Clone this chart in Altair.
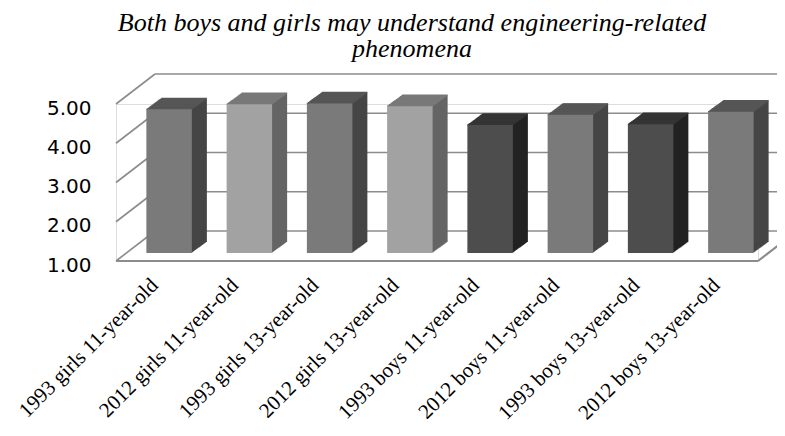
import altair as alt
import pandas as pd

# ---------------- data ----------------
categories = [
    "1993 girls 11-year-old", "2012 girls 11-year-old",
    "1993 girls 13-year-old", "2012 girls 13-year-old",
    "1993 boys 11-year-old", "2012 boys 11-year-old",
    "1993 boys 13-year-old", "2012 boys 13-year-old",
]
values = [4.66, 4.79, 4.81, 4.74, 4.26, 4.52, 4.28, 4.60]
y_ticks = [1, 2, 3, 4, 5]
title_lines = ["Both boys and girls may understand engineering-related", "phenomena"]

# ---------------- style ----------------
shade = ["mid", "light", "mid", "light", "dark", "mid", "dark", "mid"]
FRONT = {"mid": "#7a7a7a", "light": "#a2a2a2", "dark": "#4d4d4d"}
SIDE = {"mid": "#454545", "light": "#646464", "dark": "#222222"}
TOP = {"mid": "#565656", "light": "#787878", "dark": "#343434"}
GRID = "#8c8c8c"
SERIF = "Liberation Serif, Times New Roman, Times, serif"

W, H = 642, 157
PAD_L, PAD_T, PAD_R = 108, 96, 19
PAD_B = 436 - 16 - PAD_T - H
BAR_DX, BAR_DY = 13, -8          # bar front plane vs. chart front plane
DEPTH_DX, DEPTH_DY = 15, -11     # bar depth
WALL_DX, WALL_DY = 39, -30       # back wall vs. front plane
P_IN = 0.433
STEP = W / 8
BW = STEP * (1 - P_IN)


def color_expr(mapping):
    arr = "[" + ",".join("'" + mapping[s] + "'" for s in shade) + "]"
    cats = "[" + ",".join("'" + c + "'" for c in categories) + "]"
    return arr + "[indexof(" + cats + ", datum.category)]"


df = pd.DataFrame({"category": categories, "value": values})
levels = pd.DataFrame({"level": y_ticks})

yscale = alt.Scale(domain=[1, 5], nice=False, zero=False)
xscale = alt.Scale(paddingInner=P_IN, paddingOuter=P_IN / 2)

x_axis = alt.Axis(
    title=None, domain=False, ticks=False, labelAngle=-45,
    labelFont=SERIF, labelFontSize=21, labelColor="black",
    labelPadding=13, labelOffset=-9, labelLimit=500, labelOverlap=False,
)
y_axis = alt.Axis(
    title=None, domain=False, ticks=False, grid=False, values=y_ticks,
    format=".2f", labelFont="DejaVu Sans", labelFontSize=20,
    labelColor="black", labelPadding=25, labelOffset=4,
)

x_enc = alt.X("category:N", sort=categories, scale=xscale, axis=x_axis)
y_enc = alt.Y("value:Q", scale=yscale, axis=y_axis)

base = alt.Chart(df).transform_calculate(
    fc=color_expr(FRONT), sc=color_expr(SIDE), tc=color_expr(TOP)
)

layers = []

# back wall gridlines
layers.append(
    alt.Chart(levels).mark_rule(color=GRID, strokeWidth=1.6, yOffset=WALL_DY).encode(
        y=alt.Y("level:Q", scale=yscale, axis=y_axis),
        x=alt.value(WALL_DX), x2=alt.value(W + PAD_R),
    )
)
# side wall diagonals
layers.append(
    alt.Chart(levels).mark_rule(color=GRID, strokeWidth=1.6, y2Offset=WALL_DY).encode(
        y=alt.Y("level:Q", scale=yscale, axis=y_axis), y2=alt.Y2("level:Q"),
        x=alt.value(0), x2=alt.value(WALL_DX),
    )
)
# floor front edge and right diagonal
layers.append(
    alt.Chart(levels).transform_filter("datum.level == 1").mark_rule(
        color=GRID, strokeWidth=2.2
    ).encode(
        y=alt.Y("level:Q", scale=yscale, axis=y_axis),
        x=alt.value(0), x2=alt.value(W),
    )
)
layers.append(
    alt.Chart(levels).transform_filter("datum.level == 1").mark_rule(
        color=GRID, strokeWidth=2.2, y2Offset=WALL_DY
    ).encode(
        y=alt.Y("level:Q", scale=yscale, axis=y_axis), y2=alt.Y2("level:Q"),
        x=alt.value(W), x2=alt.value(W + WALL_DX),
    )
)

# side faces: stacked shifted copies of the bar
for i in range(1, DEPTH_DX + 1):
    dx = BAR_DX + i
    dy = BAR_DY + DEPTH_DY * i / DEPTH_DX
    layers.append(
        base.mark_bar(xOffset=dx, yOffset=dy, y2Offset=dy).encode(
            x=x_enc, y=y_enc, y2=alt.datum(1),
            color=alt.Color("sc:N", scale=None),
        )
    )
# top faces
for i in range(0, DEPTH_DX + 1):
    dx = BAR_DX + i
    dy = BAR_DY + DEPTH_DY * i / DEPTH_DX
    layers.append(
        base.mark_tick(xOffset=dx, yOffset=dy, size=BW, thickness=1.4, opacity=1).encode(
            x=x_enc, y=y_enc,
            color=alt.Color("tc:N", scale=None),
        )
    )
# front faces
layers.append(
    base.mark_bar(xOffset=BAR_DX, yOffset=BAR_DY, y2Offset=BAR_DY).encode(
        x=x_enc, y=y_enc, y2=alt.datum(1),
        color=alt.Color("fc:N", scale=None),
    )
)

chart = alt.layer(*layers).properties(
    width=W, height=H,
    autosize=alt.AutoSizeParams(type="none"),
    padding={"left": PAD_L, "top": PAD_T, "right": PAD_R, "bottom": PAD_B},
    title=alt.Title(
        text=title_lines, font=SERIF, fontStyle="italic",
        fontWeight="normal", fontSize=26, color="black", anchor="middle",
        dx=-25, offset=11, lineHeight=26,
    ),
).configure_view(stroke=None).configure(background="white")

chart.save("out.html", embed_options={"renderer": "svg", "actions": False})
